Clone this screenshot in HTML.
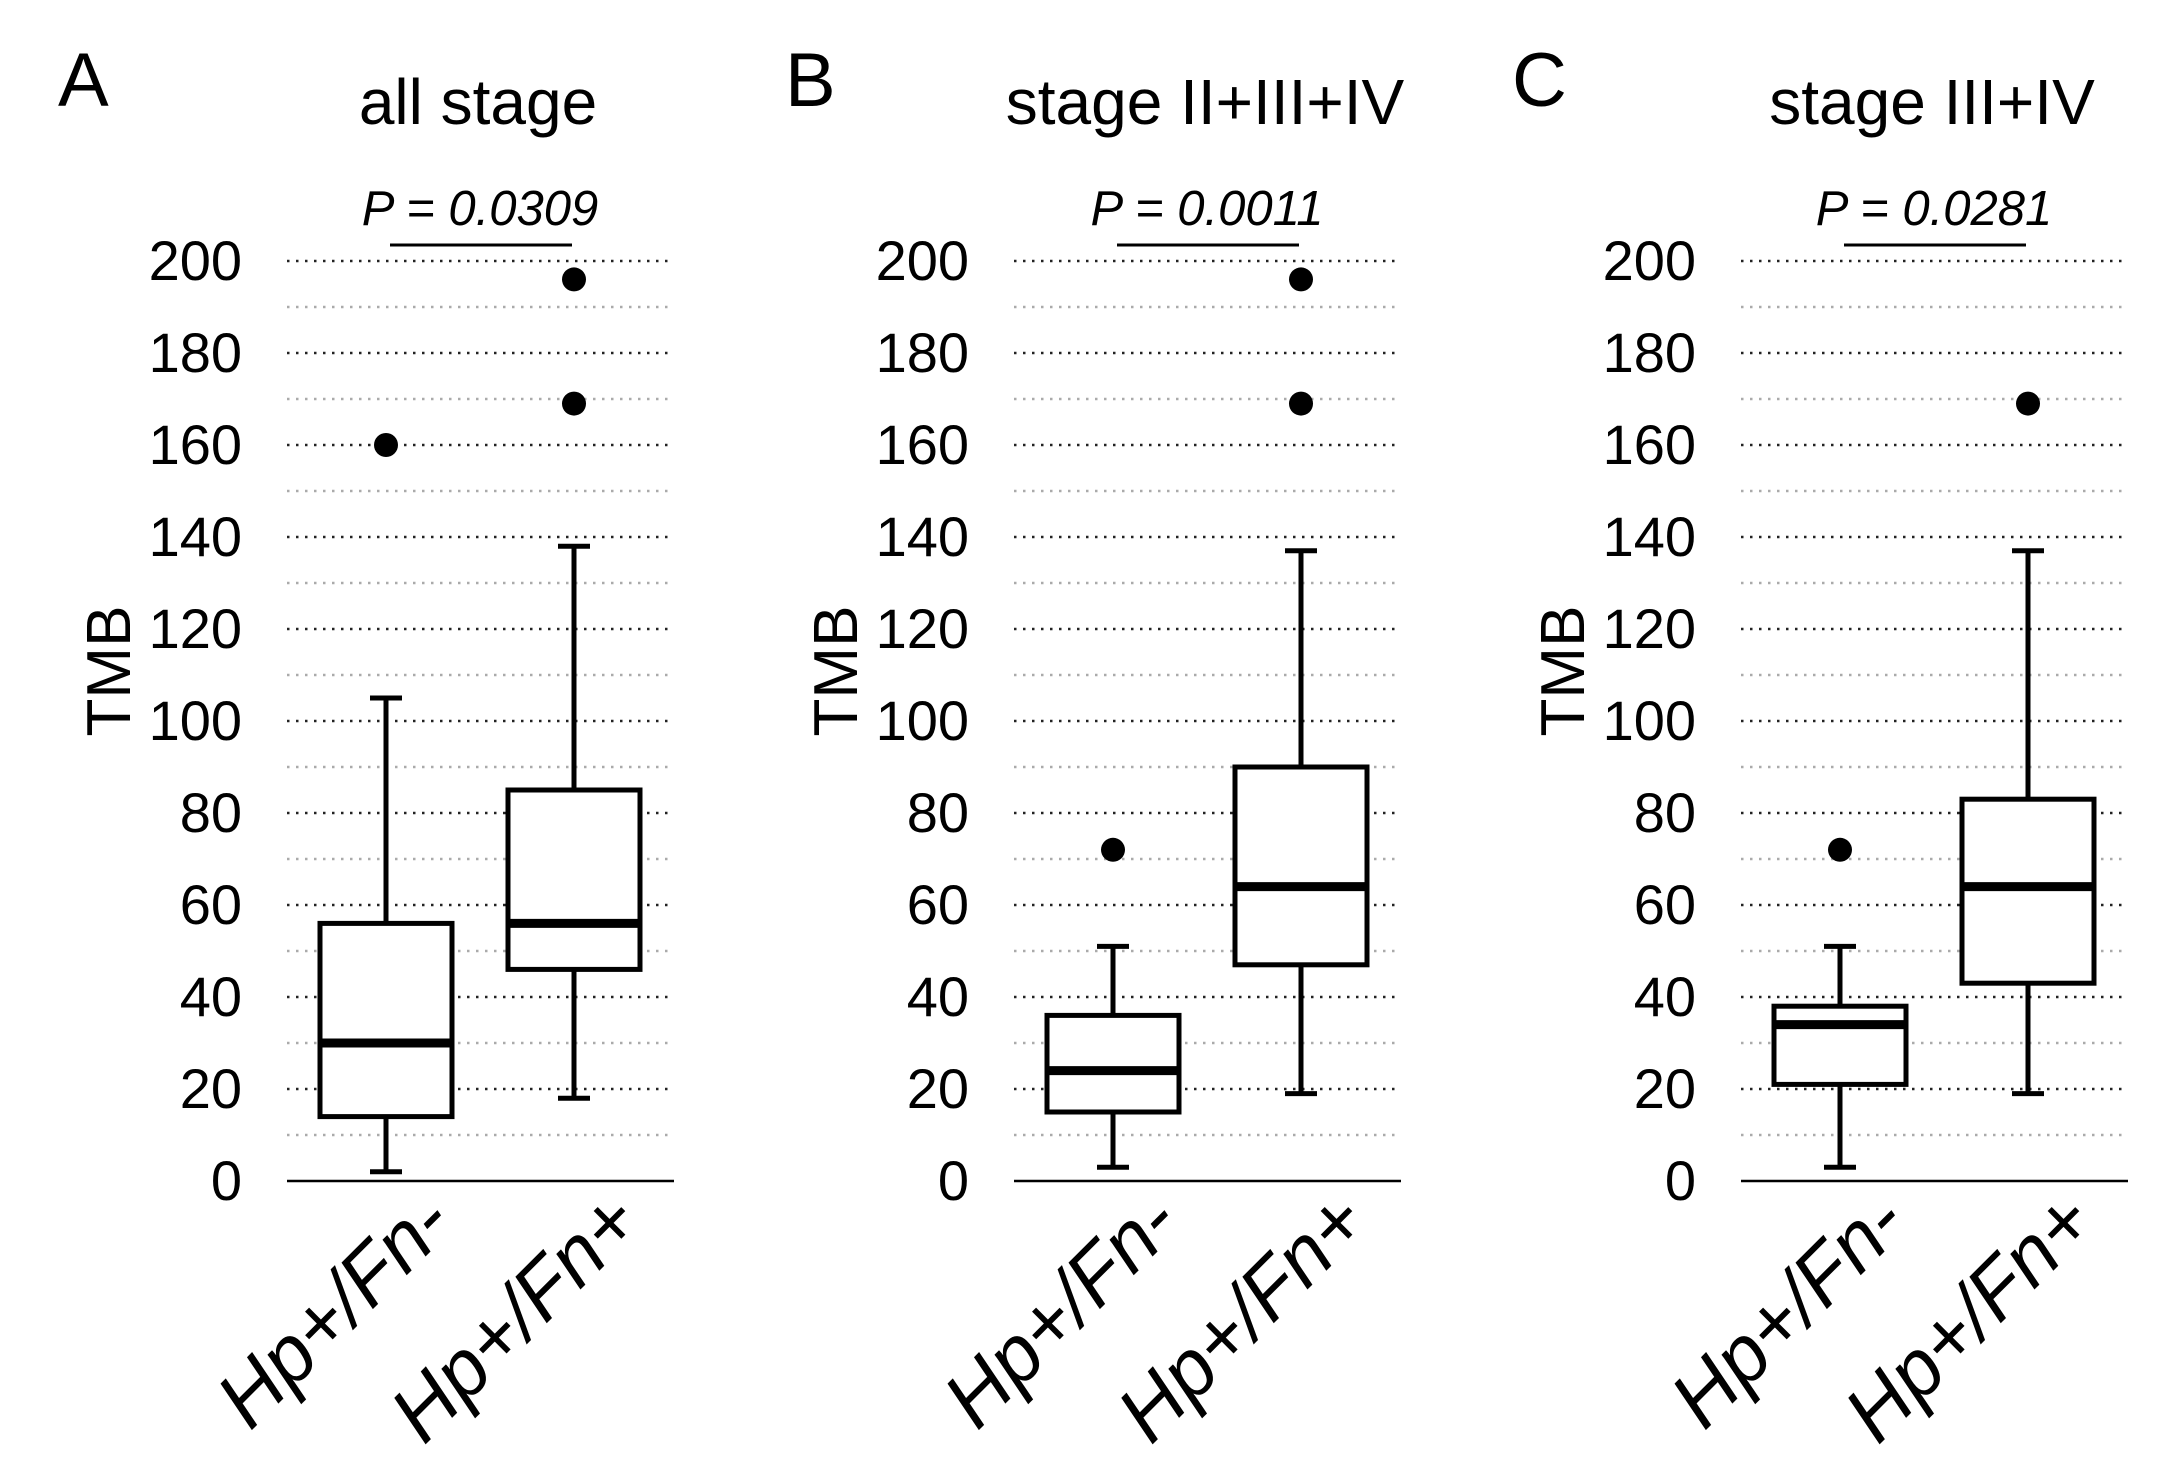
<!DOCTYPE html>
<html><head><meta charset="utf-8">
<style>
html,body{margin:0;padding:0;background:#fff;}
svg{display:block;font-family:"Liberation Sans",Arial,sans-serif;}
</style></head>
<body>
<svg id="chart" width="2169" height="1467" viewBox="0 0 2169 1467" xmlns="http://www.w3.org/2000/svg"></svg>
<script>
const panelLetters = ["A","B","C"];
const panelTitles = ["all stage","stage II+III+IV","stage III+IV"];
const pValues = ["P = 0.0309","P = 0.0011","P = 0.0281"];
const categories = ["Hp+/Fn-","Hp+/Fn+"];
const yTicks = [0,20,40,60,80,100,120,140,160,180,200];
// per panel: [group1, group2]
const q1 = [[14,46],[15,47],[21,43]];
const med = [[30,56],[24,64],[34,64]];
const q3 = [[56,85],[36,90],[38,83]];
const whiskLo = [[2,18],[3,19],[3,19]];
const whiskHi = [[105,138],[51,137],[51,137]];
const outliers = [[[160],[196,169]],[[72],[196,169]],[[72],[169]]];

const svg = document.getElementById('chart');
const NS = 'http://www.w3.org/2000/svg';
function mk(tag, attrs, parent){
  const e = document.createElementNS(NS, tag);
  for (const k in attrs) e.setAttribute(k, attrs[k]);
  (parent||svg).appendChild(e);
  return e;
}
const Y0 = 1181, Y200 = 261;
function yScale(v){ return Y0 + (Y200 - Y0) * v / 200; }
const panelOffset = 727;

for (let p = 0; p < 3; p++) {
  const ox = p * panelOffset;
  const gx0 = 287 + ox, gx1 = 670 + ox;
  const cx = [386 + ox, 574 + ox];
  const g = mk('g', {});
  
  

  const letter = mk('text', {x: 58 + ox, y: 106, 'font-size': 76}, g);
  letter.textContent = panelLetters[p];
  
  

  const title = mk('text', {x: 478 + ox, y: 124, 'font-size': 64, 'text-anchor': 'middle'}, g);
  title.textContent = panelTitles[p];
  
  

  const pt = mk('text', {x: 480 + ox, y: 225, 'font-size': 49, 'font-style': 'italic', 'text-anchor': 'middle'}, g);
  pt.textContent = pValues[p];
  
  
  const pl = mk('line', {x1: 390 + ox, x2: 572 + ox, y1: 245, y2: 245, stroke: '#000', 'stroke-width': 3}, g);
  
  

  for (let v = 10; v <= 200; v += 10) {
    const major = v % 20 === 0;
    const gl = mk('line', {x1: gx0, x2: gx1, y1: yScale(v), y2: yScale(v), stroke: major ? '#222' : '#aaa', 'stroke-width': 2.5, 'stroke-dasharray': '2.5 6.5'}, g);
    
    
  }
  const ax = mk('line', {x1: gx0, x2: gx1 + 4, y1: Y0, y2: Y0, stroke: '#000', 'stroke-width': 2.5}, g);
  
  

  yTicks.forEach(t => {
    const tl = mk('text', {x: 242 + ox, y: yScale(t) + 19, 'font-size': 56, 'text-anchor': 'end'}, g);
    tl.textContent = t;
    
    
  });
  const yt = mk('text', {x: 0, y: 0, 'font-size': 62, 'text-anchor': 'middle', transform: `translate(${130 + ox},671) rotate(-90)`}, g);
  yt.textContent = 'TMB';
  
  

  for (let i = 0; i < 2; i++) {
    const c = cx[i], hw = 66, cap = 16;
    const bg = mk('g', {}, g);
    
    
    mk('line', {x1: c, x2: c, y1: yScale(whiskHi[p][i]), y2: yScale(q3[p][i]), stroke: '#000', 'stroke-width': 5}, bg);
    mk('line', {x1: c, x2: c, y1: yScale(q1[p][i]), y2: yScale(whiskLo[p][i]), stroke: '#000', 'stroke-width': 5}, bg);
    mk('line', {x1: c - cap, x2: c + cap, y1: yScale(whiskHi[p][i]), y2: yScale(whiskHi[p][i]), stroke: '#000', 'stroke-width': 5}, bg);
    mk('line', {x1: c - cap, x2: c + cap, y1: yScale(whiskLo[p][i]), y2: yScale(whiskLo[p][i]), stroke: '#000', 'stroke-width': 5}, bg);
    mk('rect', {x: c - hw, y: yScale(q3[p][i]), width: 2 * hw, height: yScale(q1[p][i]) - yScale(q3[p][i]), fill: '#fff', stroke: '#000', 'stroke-width': 5}, bg);
    mk('line', {x1: c - hw, x2: c + hw, y1: yScale(med[p][i]), y2: yScale(med[p][i]), stroke: '#000', 'stroke-width': 9}, bg);
    outliers[p][i].forEach(o => {
      const d = mk('circle', {cx: c, cy: yScale(o), r: 12, fill: '#000'}, bg);
      
      
    });
    const xl = mk('text', {x: 0, y: 0, 'font-size': 80, 'font-style': 'italic', 'text-anchor': 'end', transform: `translate(${c + 70},${1226}) rotate(-45)`}, g);
    xl.textContent = categories[i];
    
    
  }
}
</script>
</body></html>
